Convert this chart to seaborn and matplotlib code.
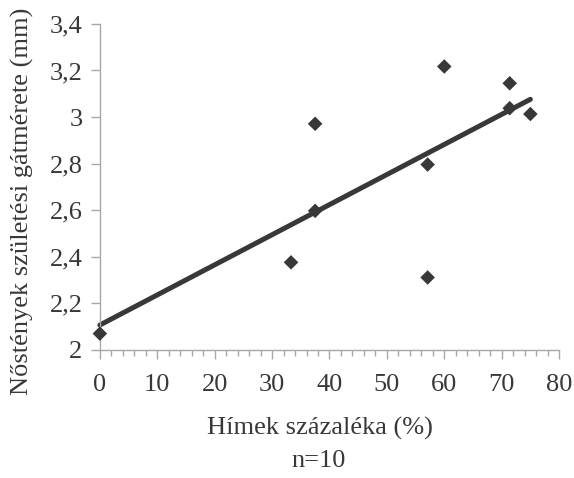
import numpy as np
import pandas as pd
import matplotlib
matplotlib.use('Agg')
import matplotlib.pyplot as plt
import seaborn as sns
from matplotlib.ticker import FuncFormatter, MultipleLocator

# percentage of males vs. female birth canal size
himek = [0, 33.3, 37.5, 37.5, 57.1, 57.1, 60.0, 71.4, 71.4, 75.0]
gatmeret = [2.07, 2.376, 2.971, 2.597, 2.311, 2.796, 3.217, 3.145, 3.038, 3.013]

df = pd.DataFrame({'himek': himek, 'gatmeret': gatmeret})

sns.set_style('white')
plt.rcParams['font.family'] = ['Liberation Serif', 'DejaVu Serif']

dark = '#383838'
grey = '#a8a8a8'
fig = plt.figure(figsize=(5.74, 4.78), dpi=100)
ax = fig.add_axes([0.174, 0.268, 0.800, 0.682])

sns.regplot(data=df, x='himek', y='gatmeret', ci=None, ax=ax, marker='D',
            scatter_kws={'s': 55, 'color': dark, 'edgecolor': 'none', 'alpha': 1,
                         'clip_on': False, 'zorder': 4},
            line_kws={'color': dark, 'lw': 3.6, 'clip_on': False})

ax.set_xlim(0, 80)
ax.set_ylim(2, 3.4)
ax.xaxis.set_major_locator(MultipleLocator(10))
ax.xaxis.set_minor_locator(MultipleLocator(2))
ax.yaxis.set_major_locator(MultipleLocator(0.2))
fmt = FuncFormatter(lambda v, p: f"{v:g}".replace('.', ','))
ax.yaxis.set_major_formatter(fmt)

for s in ['top', 'right']:
    ax.spines[s].set_visible(False)
for s in ['left', 'bottom']:
    ax.spines[s].set_color(grey)
    ax.spines[s].set_linewidth(1)

ax.tick_params(axis='x', which='major', bottom=True, length=6.5, width=1, color=grey,
               labelsize=19, labelcolor=dark, pad=11)
ax.tick_params(axis='x', which='minor', bottom=True, length=4.5, width=1, color=grey)
ax.tick_params(axis='y', which='major', left=True, length=6.5, width=1, color=grey,
               labelsize=19, labelcolor=dark, pad=6)

ax.set_xlabel('')
ax.set_ylabel('')
fig.text(0.557, 1 - 428 / 478, 'Hímek százaléka (%)', fontsize=19, color=dark,
         ha='center', va='center')
fig.text(0.555, 1 - 461 / 478, 'n=10', fontsize=19, color=dark, ha='center', va='center')
fig.text(22 / 574, 1 - 201 / 478, 'Nőstények születési gátmérete (mm)', fontsize=19,
         color=dark, rotation=90, ha='center', va='center')

fig.savefig('out.png', dpi=100)
